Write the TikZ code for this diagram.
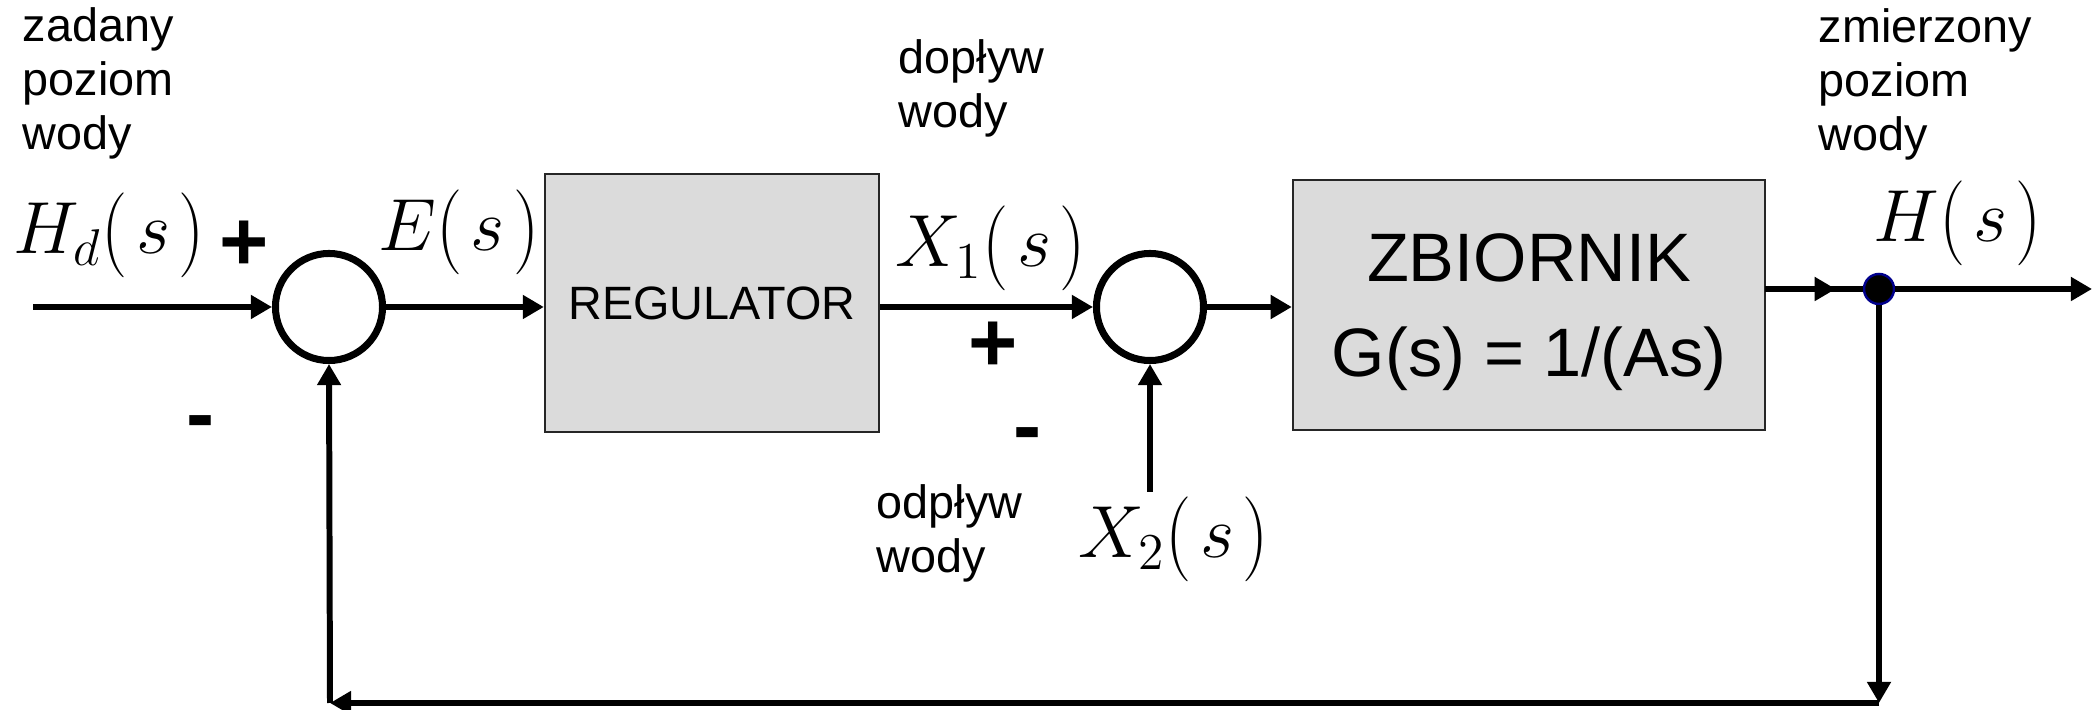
\RequirePackage{fix-cm}
\documentclass[tikz,border=0pt]{standalone}
\usepackage{fontspec}
\setmainfont{Liberation Sans}
\usetikzlibrary{arrows.meta}

\newcommand{\lpar}{\mathopen{\vcenter{\hbox{\scalebox{1}[1.15]{$($}}}}\mskip2mu}
\newcommand{\rpar}{\mskip2mu\mathclose{\vcenter{\hbox{\scalebox{1}[1.15]{$)$}}}}}

\begin{document}
\begin{tikzpicture}[x=0.01cm,y=-0.01cm,
    block/.style={draw=black!85,line width=0.6pt,fill=black!14,inner sep=0pt,
        minimum width=3.34cm,minimum height=2.58cm,font=\fontsize{13.3}{16}\selectfont},
    sumnode/.style={draw,circle,line width=2pt,minimum size=1.07cm,inner sep=0pt},
    signal/.style={line width=1.7pt,-{Triangle[length=6pt,width=6.5pt]}},
    caption/.style={align=left,anchor=base west,inner sep=0pt,font=\fontsize{13.3}{15.4}\selectfont},
    sign/.style={inner sep=0pt,font=\fontsize{24}{24}\selectfont\bfseries},
    var/.style={anchor=base west,inner sep=0pt,font=\fontsize{21}{24}\selectfont}]

    \useasboundingbox (0,0) rectangle (2096,710);

    %blocks:
    \node[block] (reg) at (712,303) {REGULATOR};
    \node[block,minimum width=4.72cm,minimum height=2.5cm] (tank) at (1529,305) {};
    \node[align=center,inner sep=0pt,font=\fontsize{19.5}{27}\selectfont,yshift=-0.07cm]
        (tanklab) at (tank.center) {ZBIORNIK\\G(s) = 1/(As)};

    %summing points:
    \node[sumnode] (sum1) at (329,307) {};
    \node[sumnode] (sum2) at (1150,307) {};
    \node[circle,fill=black,draw=blue!55!black,line width=0.7pt,minimum size=0.3cm,inner sep=0pt] (branch) at (1879,289) {};

    \coordinate (in) at (33,307);
    \coordinate (dist) at (1150,492);
    \coordinate (tankout) at (1765,289);
    \coordinate (out) at (2092,289);
    \coordinate (fbcorner) at (1879,703);
    \coordinate (fbturn) at (330,703);

    %signals:
    \draw[signal] (in) -- (sum1.west);
    \draw[signal] (sum1.east) -- (sum1.east -| reg.west);
    \draw[signal] (sum2.west -| reg.east) -- (sum2.west);
    \draw[signal] (sum2.east) -- (sum2.east -| tank.west);
    \draw[signal] (dist) -- (sum2.south);
    \draw[line width=1.7pt] (tankout) -- (branch);
    \draw[signal,shorten >=0.27cm] (tankout) -- (branch.west);
    \draw[signal] (branch) -- (out);

    %feedback:
    \draw[signal] (branch) -- (fbcorner);
    \draw[signal] (fbcorner) -- (fbturn);
    \draw[signal] (fbturn) -- (sum1.south);

    %signs:
    \node[sign] (plus1) at (244,246) {+};
    \node[sign] (minus1) at (201,429) {-};
    \node[sign] (plus2) at (993,347) {+};
    \node[sign] (minus2) at (1028,441) {-};

    %labels (base = last line):
    \node[caption] (setlab) at (22,150) {zadany\\poziom\\wody};
    \node[caption] (inflab) at (898,128) {dopływ\\wody};
    \node[caption] (outflab) at (876,573) {odpływ\\wody};
    \node[caption] (measlab) at (1818,151) {zmierzony\\poziom\\wody};
    \node[var] (hd) at (13,254) {$H_d\lpar s\rpar$};
    \node[var] (err) at (378,251) {$E\lpar s\rpar$};
    \node[var] (xone) at (895,267) {$X_1\lpar s\rpar$};
    \node[var] (xtwo) at (1078,558) {$X_2\lpar s\rpar$};
    \node[var] (hout) at (1873,242) {$H\lpar s\rpar$};

\end{tikzpicture}
\end{document}
